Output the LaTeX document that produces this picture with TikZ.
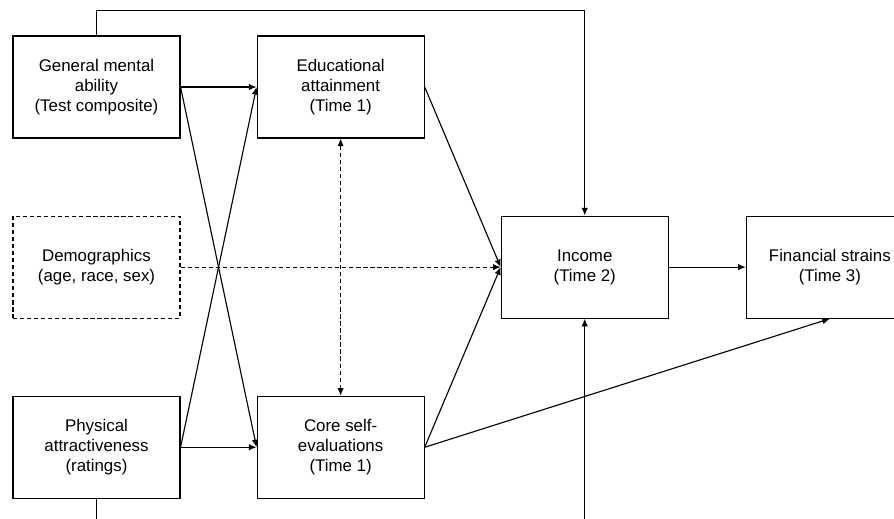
\documentclass[tikz,border=0pt]{standalone}
\usepackage{fontspec}
\setmainfont{Liberation Sans}
\usepackage{tikz}
\usetikzlibrary{positioning}
\usetikzlibrary{arrows.meta}

\begin{document}
\begin{tikzpicture}[
  font=\fontsize{12}{14.2}\selectfont,
  box/.style={draw, line width=0.8pt, align=center, minimum width=4.175cm, minimum height=2.55cm, inner sep=0pt},
  dbox/.style={box, dash pattern=on 3pt off 2pt},
  arrow/.style={-{Latex[length=1.9mm, width=1.6mm]}, line width=0.8pt},
  darrow/.style={arrow, dash pattern=on 3pt off 2pt}
]
\useasboundingbox (0,0) rectangle (22.35,-12.95);

\node[box] (gma) at (2.4125,-2.175) {General mental\\ability\\(Test composite)};
\node[box, right=1.9cm of gma] (edu) {Educational\\attainment\\(Time 1)};
\node[dbox, below=1.925cm of gma] (demo) {Demographics\\(age, race, sex)};
\node[box, below=1.925cm of demo] (phys) {Physical\\attractiveness\\(ratings)};
\node[box, right=1.9cm of phys] (core) {Core self-\\evaluations\\(Time 1)};

\node[box, below right=1.925cm and 1.9cm of edu] (inc) {Income\\(Time 2)};
\node[box, right=1.925cm of inc] (fin) {Financial strains\\(Time 3)};

\draw[arrow] (gma) -- (edu);
\draw[arrow] (phys) -- (core);
\draw[arrow] (gma.east) -- (core.west);
\draw[arrow] (phys.east) -- (edu.west);
\draw[darrow, {Latex[length=1.9mm, width=1.6mm]}-{Latex[length=1.9mm, width=1.6mm]}] (edu) -- (core);

\draw[darrow] (demo) -- (inc);
\draw[arrow] (edu.east) -- (inc.west);
\draw[arrow] (core.east) -- (inc.west);
\draw[arrow] (core.east) -- (fin.south);
\draw[arrow] (inc) -- (fin);

% long paths round the outside
\draw[arrow] (gma.north) -- ++(0,0.625) -| (inc.north);
\draw[arrow] (phys.south) -- ++(0,-1.2) -| (inc.south);

\end{tikzpicture}
\end{document}
